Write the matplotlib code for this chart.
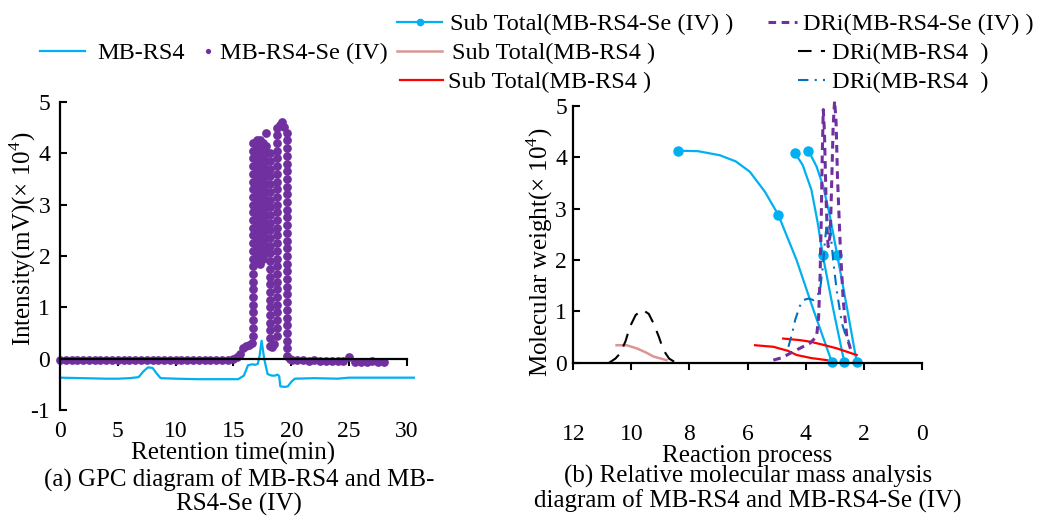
import matplotlib
matplotlib.use("Agg")
import matplotlib.pyplot as plt
from matplotlib.lines import Line2D

plt.rcParams["font.family"] = ["Liberation Serif", "DejaVu Serif"]
plt.rcParams["mathtext.fontset"] = "custom"
plt.rcParams["mathtext.rm"] = "Liberation Serif"
plt.rcParams["axes.unicode_minus"] = False

CYAN = "#00b0f0"
PURPLE = "#7030a0"
ROSE = "#d99694"
RED = "#ff0000"
BLUE = "#0070c0"

# ---- (a) GPC traces ----
rs4_time = [0, 2, 4, 5, 6, 6.8, 7.2, 7.6, 8.0, 8.4, 8.7, 10, 12, 14, 15.4, 15.9,
            16.25, 16.6, 16.9, 17.1, 17.25, 17.43, 17.65, 17.95, 18.3, 18.6, 18.8,
            18.95, 19.05, 19.4, 19.7, 20.0, 20.3, 22, 24, 25, 27, 30.6]
rs4_intensity = [-0.37, -0.38, -0.39, -0.39, -0.38, -0.36, -0.25, -0.17, -0.18, -0.3,
                 -0.38, -0.39, -0.40, -0.40, -0.40, -0.33, -0.13, -0.11, -0.12, -0.1,
                 0.05, 0.35, 0.0, -0.3, -0.33, -0.33, -0.31, -0.34, -0.54, -0.55,
                 -0.54, -0.45, -0.39, -0.38, -0.39, -0.37, -0.37, -0.37]

se_base_time = [0.0, 0.5, 1.0, 1.5, 2.0, 2.5, 3.0, 3.5, 4.0, 4.5, 5.0, 5.5, 6.0, 6.5,
                7.0, 7.5, 8.0, 8.5, 9.0, 9.5, 10.0, 10.5, 11.0, 11.5, 12.0, 12.5,
                13.0, 13.5, 14.0, 14.5, 15.0, 15.3, 15.55, 15.8, 16.05, 16.35, 16.6]
se_base_intensity = [-0.02, -0.03, -0.02, -0.03, -0.02, -0.02, -0.03, -0.03, -0.02,
                     -0.02, -0.03, -0.02, -0.03, -0.03, -0.02, -0.02, -0.02, -0.03,
                     -0.02, -0.02, -0.03, -0.02, -0.02, -0.03, -0.02, -0.02, -0.02,
                     -0.03, -0.02, -0.02, -0.01, 0.03, 0.10, 0.20, 0.25, 0.26, 0.30]

# steep parts of the Se trace, sampled as (time, intensities)
se_columns = [
    (16.72, [0.45, 0.60, 0.75, 0.90, 1.05, 1.20, 1.35, 1.50, 1.65, 1.80, 1.95, 2.10,
             2.25, 2.40, 2.55, 2.70, 2.85, 3.00, 3.15, 3.30, 3.45, 3.60, 3.75, 3.90,
             4.05, 4.20]),
    (17.00, [4.25, 4.10, 3.95, 3.80, 3.65, 3.50, 3.35, 3.20, 3.05, 2.90, 2.75, 2.60,
             2.45, 2.30, 2.15, 2.00, 1.88]),
    (17.28, [1.85, 2.00, 2.15, 2.30, 2.45, 2.60, 2.75, 2.90, 3.05, 3.20, 3.35, 3.50,
             3.65, 3.80, 3.95, 4.10, 4.25]),
    (17.55, [4.20, 4.05, 3.90, 3.75, 3.60, 3.45, 3.30, 3.15, 3.00, 2.85, 2.70, 2.55,
             2.40, 2.25, 2.10, 1.95]),
    (17.82, [2.05, 2.20, 2.35, 2.50, 2.65, 2.80, 2.95, 3.10, 3.25, 3.40, 3.55, 3.70,
             3.85, 4.00, 4.15, 4.40]),
    (18.15, [4.00, 3.85, 3.70, 3.55, 3.40, 3.25, 3.10, 2.95, 2.80, 2.65, 2.50, 2.35,
             2.20, 2.05, 1.90, 1.75, 1.60, 1.45, 1.30, 1.15, 1.00, 0.85, 0.70, 0.55,
             0.40, 0.25]),
    (18.78, [0.45, 0.60, 0.75, 0.90, 1.05, 1.20, 1.35, 1.50, 1.65, 1.80, 1.95, 2.10,
             2.25, 2.40, 2.55, 2.70, 2.85, 3.00, 3.15, 3.30, 3.45, 3.60, 3.75, 3.90,
             4.05, 4.20, 4.35, 4.50]),
    (19.62, [4.40, 4.25, 4.10, 3.95, 3.80, 3.65, 3.50, 3.35, 3.20, 3.05, 2.90, 2.75,
             2.60, 2.45, 2.30, 2.15, 2.00, 1.85, 1.70, 1.55, 1.40, 1.25, 1.10, 0.95,
             0.80, 0.65, 0.50, 0.35, 0.20, 0.05]),
]
se_mid_time = [18.35, 18.5, 19.0, 19.2, 19.4, 19.85]
se_mid_intensity = [0.22, 0.28, 4.55, 4.62, 4.52, 0.0]

se_tail_time = [20.1, 20.5, 21.0, 21.5, 22.0, 22.5, 23.0, 23.5, 24.0, 24.5, 25.0,
                25.5, 26.0, 26.5, 27.0, 27.5, 28.0]
se_tail_intensity = [-0.02, -0.03, -0.03, -0.04, -0.03, -0.04, -0.05, -0.04, -0.05,
                     -0.05, 0.03, -0.06, -0.06, -0.06, -0.05, -0.06, -0.06]

# ---- (b) molecular weight curves ----
sub_se_1_x = [8.41, 7.7, 6.95, 6.4, 5.92, 5.4, 4.94, 4.31, 3.73, 3.10]
sub_se_1_y = [4.13, 4.12, 4.04, 3.92, 3.72, 3.33, 2.88, 2.00, 1.03, 0.02]
sub_se_2_x = [4.36, 4.10, 3.80, 3.58, 3.41, 3.05, 2.67]
sub_se_2_y = [4.08, 3.85, 3.37, 2.72, 2.10, 1.05, 0.02]
sub_se_3_x = [3.90, 3.62, 3.39, 3.16, 2.91, 2.58, 2.24]
sub_se_3_y = [4.13, 3.82, 3.43, 2.85, 2.10, 1.09, 0.02]

sub_rs4_a_x = [10.51, 10.16, 9.82, 9.5, 9.24, 8.79]
sub_rs4_a_y = [0.34, 0.34, 0.28, 0.20, 0.12, 0.05]
sub_rs4_b_x = [5.74, 5.11, 4.6, 4.31, 3.8, 3.27]
sub_rs4_b_y = [0.34, 0.31, 0.23, 0.15, 0.09, 0.05]
sub_rs4_c_x = [4.77, 4.2, 3.85, 3.4, 2.93, 2.24]
sub_rs4_c_y = [0.47, 0.44, 0.41, 0.35, 0.28, 0.15]

dri_se_x = [5.11, 4.8, 4.54, 4.2, 3.85, 3.62, 3.55, 3.50, 3.46, 3.43, 3.39, 3.35,
            3.30, 3.25, 3.22, 3.15, 3.10, 3.05, 3.00, 2.95, 2.90, 2.80, 2.70, 2.58, 2.41]
dri_se_y = [0.05, 0.10, 0.18, 0.28, 0.38, 0.51, 0.90, 1.68, 2.80, 3.90, 4.93, 4.50,
            3.30, 2.50, 2.26, 2.50, 3.50, 4.60, 5.10, 4.70, 3.60, 2.20, 1.20, 0.51, 0.19]
dri_rs4_a_x = [10.79, 10.55, 10.39, 10.2, 10.05, 9.85, 9.61, 9.4, 9.24, 9.05, 8.90, 8.7, 8.44]
dri_rs4_a_y = [-0.01, 0.08, 0.18, 0.42, 0.70, 0.93, 1.03, 0.95, 0.77, 0.50, 0.25, 0.08, -0.01]
dri_rs4_b_x = [4.59, 4.45, 4.36, 4.2, 4.08, 3.9, 3.73, 3.6, 3.50, 3.40, 3.33, 3.25,
               3.15, 3.05, 2.93, 2.75, 2.6, 2.47]
dri_rs4_b_y = [0.31, 0.60, 0.83, 1.10, 1.22, 1.25, 1.22, 1.30, 1.42, 1.90, 2.39, 2.80,
               2.60, 2.00, 1.42, 0.77, 0.50, 0.38]

W, H = 1044, 518
fig = plt.figure(figsize=(W / 100, H / 100), dpi=100)
ax1 = fig.add_axes([60 / W, 1 - 410 / H, 347 / W, 308 / H])
ax2 = fig.add_axes([573.3 / W, 1 - 362.7 / H, 348.4 / W, 256.7 / H])

# (a)
rs4_line, = ax1.plot(rs4_time, rs4_intensity, color=CYAN, lw=1.6, clip_on=False)
se_t = list(se_base_time)
se_y = list(se_base_intensity)
for t, ys in se_columns:
    se_t += [t] * len(ys)
    se_y += ys
se_t += se_mid_time + se_tail_time
se_y += se_mid_intensity + se_tail_intensity
se_dots, = ax1.plot(se_t, se_y, "o", color=PURPLE, ms=6.3, mew=0, clip_on=False)

ax1.set_xlim(0, 30)
ax1.set_ylim(-1, 5)
ax1.set_xticks(range(0, 31, 5))
ax1.set_yticks(range(-1, 6))
ax1.set_ylabel("Intensity(mV)(× 10$^{4}$)", fontsize=18, va="center")
ax1.yaxis.set_label_coords(-0.107, 0.555)
ax1.set_xlabel("Retention time(min)", fontsize=18, va="center")
ax1.xaxis.set_label_coords(0.5, -0.14)

# (b)
se_kw = dict(color=CYAN, lw=1.6, marker="o", ms=6.5, clip_on=False)
ax2.plot(sub_se_1_x, sub_se_1_y, markevery=[0, 6, 9], **se_kw)
ax2.plot(sub_se_2_x, sub_se_2_y, markevery=[0, 4, 6], **se_kw)
ax2.plot(sub_se_3_x, sub_se_3_y, markevery=[0, 4, 6], **se_kw)
rose_line, = ax2.plot(sub_rs4_a_x, sub_rs4_a_y, color=ROSE, lw=1.8)
red_line, = ax2.plot(sub_rs4_b_x, sub_rs4_b_y, color=RED, lw=1.6)
ax2.plot(sub_rs4_c_x, sub_rs4_c_y, color=RED, lw=1.6)
dri_se_line, = ax2.plot(dri_se_x, dri_se_y, color=PURPLE, lw=2.2,
                        ls=(0, (2.5, 1.8)), clip_on=False)
dri_black, = ax2.plot(dri_rs4_a_x, dri_rs4_a_y, color="black", lw=1.5,
                      ls=(0, (6.5, 4.5)), clip_on=False)
dri_blue, = ax2.plot(dri_rs4_b_x, dri_rs4_b_y, color=BLUE, lw=1.5,
                     ls=(0, (5, 3, 1, 3)), clip_on=False)

ax2.set_xlim(12, 0)
ax2.set_ylim(0, 5)
ax2.set_xticks(range(0, 13, 2))
ax2.set_yticks(range(0, 6))
ax2.set_ylabel("Molecular weight(× 10$^{4}$)", fontsize=18, va="center")
ax2.yaxis.set_label_coords(-0.0956, 0.431)
ax2.set_xlabel("Reaction process", fontsize=18, va="center")
ax2.xaxis.set_label_coords(0.5, -0.365)

for ax, xpad, ypad in ((ax1, 40, 7), (ax2, 39, 4.5)):
    for side in ("top", "right"):
        ax.spines[side].set_visible(False)
    ax.spines["bottom"].set_position(("data", 0))
    ax.spines["left"].set_linewidth(1.6)
    ax.spines["bottom"].set_linewidth(1.6)
    ax.tick_params(axis="x", direction="out", length=5, width=1.5, pad=xpad, labelsize=17)
    ax.tick_params(axis="y", direction="in", length=5, width=1.5, pad=ypad, labelsize=17)

fig.text(239 / W, 1 - 492 / H, "(a) GPC diagram of MB-RS4 and MB-\nRS4-Se (IV)",
         ha="center", va="center", fontsize=18, linespacing=1.05)
fig.text(748 / W, 1 - 489 / H,
         "(b) Relative molecular mass analysis\ndiagram of MB-RS4 and MB-RS4-Se (IV)",
         ha="center", va="center", fontsize=18, linespacing=1.05)

# legend entries placed individually along the top
sub_se_proxy = Line2D([], [], color=CYAN, lw=1.6, marker="o", ms=4.5)
FS = 17.5
fs_px = FS * 100 / 72
legend_items = [
    (rs4_line, "MB-RS4", 40, 53, 45, 12, 1.0),
    (se_dots, "MB-RS4-Se (IV)", 201, 53, 14, 5, 0.6),
    (sub_se_proxy, "Sub Total(MB-RS4-Se (IV) )", 397, 24, 45, 8, 1.0),
    (rose_line, "Sub Total(MB-RS4 )", 397, 53, 45, 10, 1.0),
    (red_line, "Sub Total(MB-RS4 )", 400, 82, 43, 5, 1.0),
    (dri_se_line, "DRi(MB-RS4-Se (IV) )", 768, 24, 29, 6, 1.0),
    (dri_black, "DRi(MB-RS4  )", 798, 53, 27, 7, 1.0),
    (dri_blue, "DRi(MB-RS4  )", 798, 82, 27, 7, 1.0),
]
for handle, label, x, y, hl, tp, ms in legend_items:
    fig.legend([handle], [label], loc="center left",
               bbox_to_anchor=(x / W, 1 - y / H), frameon=False,
               borderpad=0, borderaxespad=0, fontsize=FS,
               handlelength=hl / fs_px, handletextpad=tp / fs_px, markerscale=ms)

fig.savefig("out.png", dpi=100)
